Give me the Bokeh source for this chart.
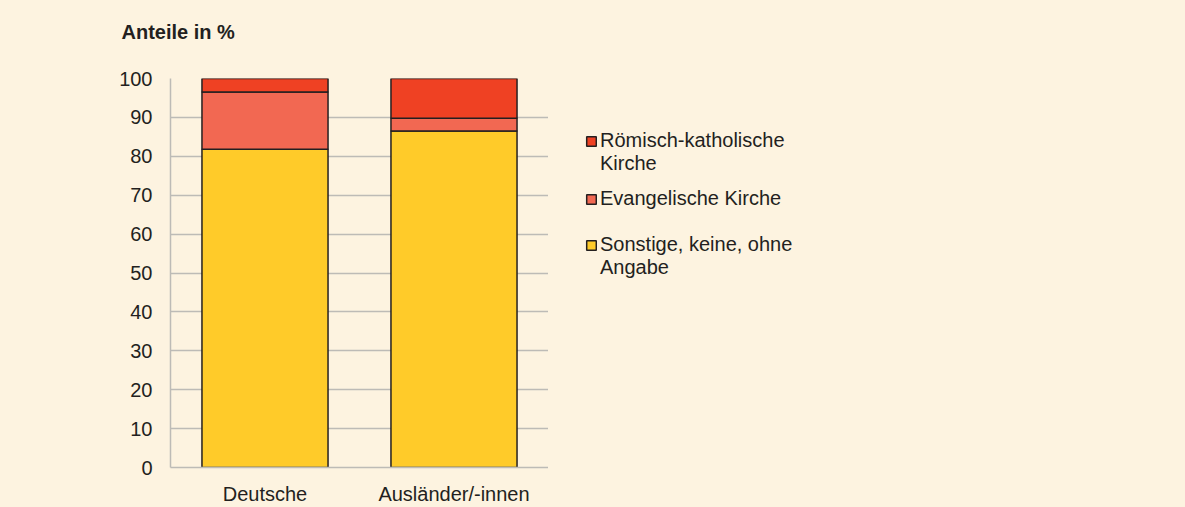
from bokeh.plotting import figure
from bokeh.layouts import row
from bokeh.models import Legend, LegendItem, FactorRange, Range1d, FixedTicker, Title
from bokeh.embed import file_html
from bokeh.resources import INLINE

categories = ["Deutsche", "Ausländer/-innen"]
sonstige = [81.8, 86.5]
evangelisch = [14.7, 3.3]
katholisch = [3.5, 10.2]
series_names = ["Sonstige, keine, ohne\nAngabe", "Evangelische Kirche", "Römisch-katholische\nKirche"]
y_ticks = [0, 10, 20, 30, 40, 50, 60, 70, 80, 90, 100]

BG = "#FDF3E0"
FONT = "Liberation Sans"
TXT = "#231F20"
colors = ["#FFCB29", "#F26852", "#EF4123"]

data = dict(cat=categories, s=sonstige, e=evangelisch, k=katholisch)

p = figure(x_range=FactorRange(*categories, range_padding=0), y_range=Range1d(0, 100),
           width=548, height=507, output_backend="svg", toolbar_location=None,
           min_border_left=170, min_border_right=0, min_border_top=78, min_border_bottom=40)
p.background_fill_color = BG
p.border_fill_color = BG
p.outline_line_color = None

rs = p.vbar_stack(["s", "e", "k"], x="cat", width=0.667, source=data, color=colors,
                  line_color="#231F20", line_width=1.5)

p.xgrid.grid_line_color = None
p.ygrid.grid_line_color = "#BDBBB6"
p.ygrid.grid_line_width = 1.5
p.yaxis.ticker = FixedTicker(ticks=y_ticks)
for ax in (p.xaxis[0], p.yaxis[0]):
    ax.axis_line_color = "#BDBBB6"
    ax.axis_line_width = 1.5
    ax.major_tick_line_color = None
    ax.minor_tick_line_color = None
    ax.major_label_text_font = FONT
    ax.major_label_text_font_size = "20px"
    ax.major_label_text_color = TXT
p.yaxis.major_label_standoff = 12
p.xaxis.major_label_standoff = 9

p.title = None
spacer = Title(text=" ", text_font_size="17px", text_font=FONT)
title = Title(text="Anteile in %", text_font=FONT, text_font_size="20px", text_font_style="bold",
              text_color=TXT, align="left", offset=-49)
p.add_layout(spacer, "above")
p.add_layout(title, "above")

# legend panel
lf = figure(width=637, height=507, output_backend="svg", toolbar_location=None,
            x_range=Range1d(0, 1), y_range=Range1d(0, 1),
            x_axis_location=None, y_axis_location=None, min_border=0)
lf.background_fill_color = BG
lf.border_fill_color = BG
lf.outline_line_color = None
lf.grid.grid_line_color = None

nan = float("nan")
blank = lf.vbar(x=[nan], top=[nan], width=0.1, fill_alpha=0, line_alpha=0)
# legend order top to bottom: katholisch, evangelisch, sonstige
order = [2, 1, 0]
bottoms = [292, 257, 188]
for idx, vy in zip(order, bottoms):
    r = lf.vbar(x=[nan], top=[nan], width=0.1, fill_color=colors[idx],
                line_color="#231F20", line_width=1.5)
    lines = series_names[idx].split("\n")
    its = [LegendItem(label=lines[0], renderers=[r])]
    for extra in lines[1:]:
        its.append(LegendItem(label=extra, renderers=[blank]))
    lg = Legend(items=its, location=(37, vy))
    lg.background_fill_alpha = 0
    lg.border_line_alpha = 0
    lg.label_text_font = FONT
    lg.label_text_font_size = "20px"
    lg.label_text_color = TXT
    lg.glyph_width = 12
    lg.glyph_height = 12
    lg.label_standoff = 3
    lg.label_height = 20
    lg.padding = 0
    lg.margin = 0
    lg.spacing = 0
    lf.add_layout(lg, "center")

layout = row(p, lf, spacing=0)
html = file_html(layout, INLINE).replace("<head>", "<head><style>html,body{background:%s;}</style>" % BG, 1)
open("out.html", "w").write(html)
